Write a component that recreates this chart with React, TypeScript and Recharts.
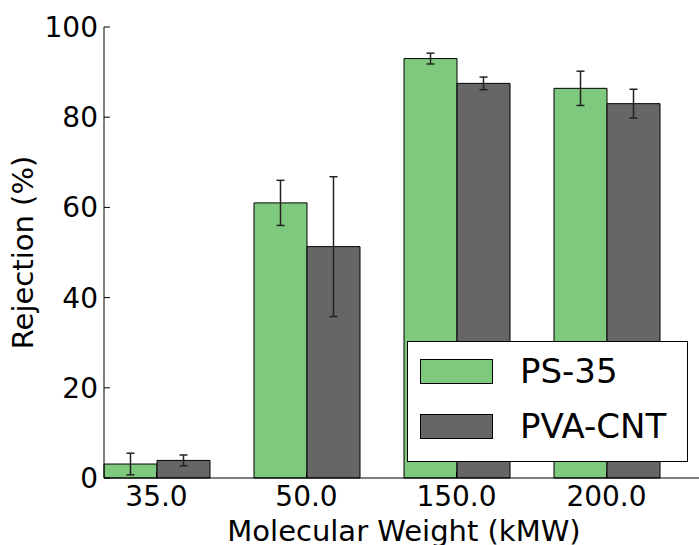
import React from 'react';
import { BarChart, Bar, XAxis, YAxis, ErrorBar, Legend } from 'recharts';

const categories = ['35.0', '50.0', '150.0', '200.0'];
const ps35 = [3.1, 61.0, 93.0, 86.4];
const ps35Err = [2.4, 5.0, 1.2, 3.8];
const pvaCnt = [3.9, 51.3, 87.5, 83.0];
const pvaCntErr = [1.2, 15.5, 1.4, 3.2];
const yTicks = [0, 20, 40, 60, 80, 100];

const GROUP_SHIFT = 0.35; // group centre offset from integer position (matplotlib ind + width)
const xTicks = categories.map((_, i) => i + GROUP_SHIFT);

const data = categories.map((c, i) => ({
  x: i + GROUP_SHIFT,
  name: c,
  ps: ps35[i],
  psErr: ps35Err[i],
  pva: pvaCnt[i],
  pvaErr: pvaCntErr[i],
}));

const series = [
  { key: 'ps', err: 'psErr', name: 'PS-35', color: '#7fc97f' },
  { key: 'pva', err: 'pvaErr', name: 'PVA-CNT', color: '#666666' },
];

const FONT = 'DejaVu Sans, sans-serif';
const tickStyle = { fill: '#000', fontSize: 28, fontFamily: FONT };

const fmtX = (v: number) => categories[Math.round(v - GROUP_SHIFT)] ?? '';

const LegendBox = () => (
  <div
    style={{
      width: 281,
      height: 121,
      boxSizing: 'border-box',
      border: '1px solid #000',
      background: '#fff',
      position: 'relative',
      fontFamily: FONT,
    }}
  >
    {series.map((s, i) => (
      <div
        key={s.key}
        style={{
          position: 'absolute',
          left: 12,
          top: 17 + i * 55,
          height: 25,
          display: 'flex',
          alignItems: 'center',
          whiteSpace: 'nowrap',
        }}
      >
        <div
          style={{
            width: 73,
            height: 25,
            boxSizing: 'border-box',
            background: s.color,
            border: '1px solid #000',
          }}
        />
        <span style={{ marginLeft: 27, fontSize: 34, color: '#000', lineHeight: '25px' }}>{s.name}</span>
      </div>
    ))}
  </div>
);

export default function App() {
  return (
    <div style={{ position: 'absolute', left: 0, top: 0 }}>
      <BarChart
        width={720}
        height={545}
        data={data}
        margin={{ top: 27, right: 16, bottom: 0, left: 0 }}
        barCategoryGap="15%"
        barGap={0}
      >
        <XAxis
          dataKey="x"
          type="number"
          domain={[0, 4]}
          ticks={xTicks}
          tickFormatter={fmtX}
          height={67}
          tick={tickStyle}
          tickSize={-6}
          tickMargin={14}
          axisLine={{ stroke: '#000', strokeWidth: 1 }}
          tickLine={{ stroke: '#000', strokeWidth: 1 }}
          interval={0}
          allowDecimals
          label={{
            value: 'Molecular Weight (kMW)',
            position: 'insideBottom',
            offset: 4,
            style: { fill: '#000', fontSize: 29, fontFamily: FONT },
          }}
        />
        <XAxis
          xAxisId="top"
          orientation="top"
          type="number"
          domain={[0, 4]}
          ticks={xTicks}
          height={0}
          tick={false}
          tickSize={-6}
          axisLine={{ stroke: '#000', strokeWidth: 1 }}
          tickLine={{ stroke: '#000', strokeWidth: 1 }}
          interval={0}
        />
        <YAxis
          domain={[0, 100]}
          ticks={yTicks}
          width={104}
          tick={tickStyle}
          tickSize={-6}
          tickMargin={12}
          axisLine={{ stroke: '#000', strokeWidth: 1 }}
          tickLine={{ stroke: '#000', strokeWidth: 1 }}
          interval={0}
          label={{
            value: 'Rejection (%)',
            angle: -90,
            position: 'insideLeft',
            offset: 23,
            style: { fill: '#000', fontSize: 29, fontFamily: FONT, textAnchor: 'middle' },
          }}
        />
        <YAxis
          yAxisId="right"
          orientation="right"
          domain={[0, 100]}
          ticks={yTicks}
          width={0}
          tick={false}
          tickSize={-6}
          axisLine={{ stroke: '#000', strokeWidth: 1 }}
          tickLine={{ stroke: '#000', strokeWidth: 1 }}
          interval={0}
        />
        {series.map((s) => (
          <Bar
            key={s.key}
            dataKey={s.key}
            name={s.name}
            fill={s.color}
            stroke="#000"
            strokeWidth={1}
            isAnimationActive={false}
          >
            <ErrorBar
              dataKey={s.err}
              direction="y"
              width={4}
              stroke="#222"
              strokeWidth={1.5}
              isAnimationActive={false}
            />
          </Bar>
        ))}
        <Legend
          layout="horizontal"
          verticalAlign="middle"
          align="center"
          wrapperStyle={{ position: 'absolute', left: 407, top: 341, width: 281, height: 121 }}
          content={() => <LegendBox />}
        />
      </BarChart>
    </div>
  );
}
